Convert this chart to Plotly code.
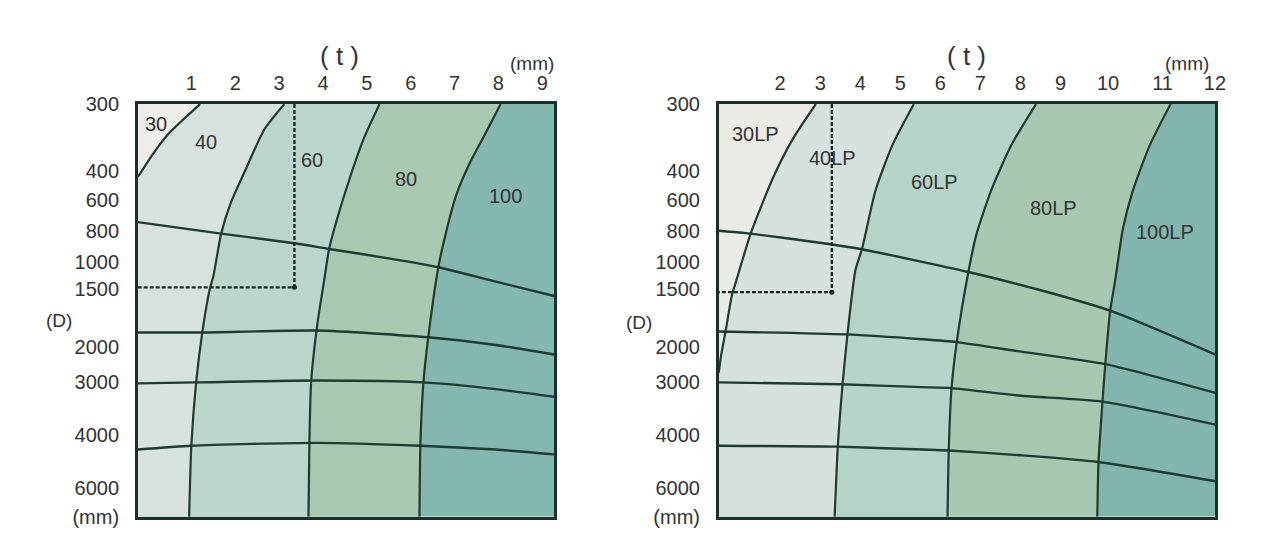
import plotly.graph_objects as go

# ---------------- shared D scale (left axis) ----------------
D_labels = ["300", "400", "600", "800", "1000", "1500", "2000", "3000", "4000", "6000", "(mm)"]
D_pos = [0, 70, 100, 132, 165, 193, 253, 290, 345, 400, 430]
D_range = [430, 0]

# ---------------- left chart ----------------
L_t_ticks = [1, 2, 3, 4, 5, 6, 7, 8, 9]
L_t_labels = ["1", "2", "3", "4", "5", "6", "7", "8", "9"]
L_t_range = [-0.22, 9.27]
L_band_names = ["30", "40", "60", "80", "100"]
L_band_colors = ["#eceee7", "#d7e2de", "#bbd5ca", "#a8c8b1", "#83b7af"]
L_band_label_t = [0.19, 1.34, 3.76, 5.90, 8.16]
L_band_label_y = [21, 40, 58, 78, 96]

# boundary curves between bands (t, D-scale position)
L_c1_t = [1.20, 0.84, 0.48, 0.14, -0.22]
L_c1_y = [0, 15, 31, 51, 76]
L_c2_t = [3.12, 2.67, 2.22, 1.90, 1.68, 1.50, 1.43, 1.25, 1.11, 1.00, 0.95]
L_c2_y = [0, 26, 70, 103, 135, 180, 191, 238, 290, 356, 430]
L_c3_t = [5.29, 4.93, 4.62, 4.32, 4.14, 4.03, 3.87, 3.73, 3.69, 3.67]
L_c3_y = [0, 36, 76, 120, 151, 183, 230, 290, 356, 430]
L_c4_t = [8.05, 7.71, 7.33, 7.03, 6.81, 6.63, 6.40, 6.29, 6.22, 6.20]
L_c4_y = [0, 30, 63, 96, 133, 170, 243, 290, 356, 430]

# unit-count lines (1台..4台)
L_h_names = ["1台", "2台", "3台", "4台"]
L_h1_t = [-0.22, 1.68, 3.35, 4.14, 5.53, 6.63, 7.94, 9.27]
L_h1_y = [123, 135, 145, 151, 161, 170, 185, 200]
L_h2_t = [-0.22, 1.25, 3.87, 6.40, 7.94, 9.27]
L_h2_y = [238, 238, 236, 243, 251, 261]
L_h3_t = [-0.22, 1.11, 3.87, 6.29, 7.94, 9.27]
L_h3_y = [291, 290, 288, 290, 297, 305]
L_h4_t = [-0.22, 1.00, 3.87, 6.22, 7.94, 9.27]
L_h4_y = [360, 356, 353, 356, 360, 365]
L_h_label_t = 9.93
L_h_label_y = [101, 238, 287, 340]
L_example = (3.35, 191)

# ---------------- right chart ----------------
R_t_ticks = [2, 3, 4, 5, 6, 7, 8, 9, 10.19, 11.55, 12.86]
R_t_labels = ["2", "3", "4", "5", "6", "7", "8", "9", "10", "11", "12"]
R_t_range = [0.465, 12.87]
R_band_names = ["30LP", "40LP", "60LP", "80LP", "100LP"]
R_band_colors = ["#e9ebe4", "#d6e1de", "#b6d3c8", "#a8c7b0", "#81b5ad"]
R_band_label_t = [1.38, 3.31, 5.86, 8.83, 11.60]
R_band_label_y = [31, 56, 81, 108, 133]

R_c1_t = [2.89, 2.32, 1.83, 1.28, 0.91, 0.79, 0.64, 0.52, 0.465]
R_c1_y = [0, 36, 76, 133, 183, 200, 236, 263, 280]
R_c2_t = [5.34, 4.80, 4.38, 4.05, 3.88, 3.68, 3.56, 3.44, 3.36]
R_c2_y = [0, 43, 90, 150, 173, 240, 291, 356, 430]
R_c3_t = [8.39, 7.77, 7.27, 6.90, 6.70, 6.41, 6.28, 6.21, 6.18]
R_c3_y = [0, 43, 90, 136, 175, 248, 296, 361, 430]
R_c4_t = [11.75, 11.23, 10.81, 10.56, 10.37, 10.24, 10.12, 10.05, 9.95, 9.92]
R_c4_y = [0, 43, 90, 130, 183, 216, 271, 310, 373, 430]

R_h_names = ["1台", "2台", "3台", "4台"]
R_h1_t = [0.465, 1.26, 3.26, 4.01, 6.70, 8.51, 10.29, 12.87]
R_h1_y = [132, 135, 146, 151, 175, 194, 216, 261]
R_h2_t = [0.465, 3.63, 5.54, 6.41, 8.02, 10.12, 12.87]
R_h2_y = [237, 240, 245, 248, 258, 271, 301]
R_h3_t = [0.465, 3.51, 5.54, 6.28, 8.02, 10.05, 12.87]
R_h3_y = [290, 292, 295, 296, 304, 310, 334]
R_h4_t = [0.465, 3.44, 5.54, 6.21, 8.02, 9.95, 12.87]
R_h4_y = [356, 357, 360, 361, 366, 373, 393]
R_h_label_t = 13.51
R_h_label_y = [133, 283, 321, 365]
R_example = (3.29, 196)

# ---------------- styling ----------------
LINE = "#1d3a33"
TEXT = "#333333"
FONT = "Liberation Sans, Noto Sans CJK JP, sans-serif"

fig = go.Figure()


def add_panel(xa, ya, t_range, colors, curves, hlines, example):
    xl, xr = t_range
    fig.add_trace(go.Scatter(x=[xl, xr, xr, xl, xl], y=[0, 0, 430, 430, 0], fill="toself",
                             fillcolor=colors[-1], line=dict(width=0), mode="lines",
                             xaxis=xa, yaxis=ya, hoverinfo="skip", showlegend=False))
    for i in range(len(curves) - 1, -1, -1):
        ct, cy = curves[i]
        px = list(ct) + [xl, xl, ct[0]]
        py = list(cy) + [cy[-1], 0, 0]
        fig.add_trace(go.Scatter(x=px, y=py, fill="toself", fillcolor=colors[i],
                                 line=dict(width=0), mode="lines",
                                 xaxis=xa, yaxis=ya, hoverinfo="skip", showlegend=False))
    for ct, cy in curves:
        fig.add_trace(go.Scatter(x=ct, y=cy, mode="lines",
                                 line=dict(color=LINE, width=2.2, shape="spline", smoothing=0.6),
                                 xaxis=xa, yaxis=ya, hoverinfo="skip", showlegend=False))
    for ht, hy in hlines:
        fig.add_trace(go.Scatter(x=ht, y=hy, mode="lines",
                                 line=dict(color=LINE, width=2.4, shape="spline", smoothing=0.6),
                                 xaxis=xa, yaxis=ya, hoverinfo="skip", showlegend=False))
    ex_t, ex_y = example
    fig.add_trace(go.Scatter(x=[ex_t, ex_t, xl], y=[0, ex_y, ex_y], mode="lines",
                             line=dict(color="#1a2a26", width=2.4, dash="4px,2px"),
                             xaxis=xa, yaxis=ya, hoverinfo="skip", showlegend=False))
    fig.add_trace(go.Scatter(x=[ex_t], y=[ex_y], mode="markers",
                             marker=dict(color="#1a2a26", size=5),
                             xaxis=xa, yaxis=ya, hoverinfo="skip", showlegend=False))


add_panel("x", "y", L_t_range, L_band_colors,
          [(L_c1_t, L_c1_y), (L_c2_t, L_c2_y), (L_c3_t, L_c3_y), (L_c4_t, L_c4_y)],
          [(L_h1_t, L_h1_y), (L_h2_t, L_h2_y), (L_h3_t, L_h3_y), (L_h4_t, L_h4_y)],
          L_example)
add_panel("x2", "y2", R_t_range, R_band_colors,
          [(R_c1_t, R_c1_y), (R_c2_t, R_c2_y), (R_c3_t, R_c3_y), (R_c4_t, R_c4_y)],
          [(R_h1_t, R_h1_y), (R_h2_t, R_h2_y), (R_h3_t, R_h3_y), (R_h4_t, R_h4_y)],
          R_example)

W, H = 1271, 545
ydom = [1 - 527 / H, 1 - 97 / H]


def xaxis(domain, rng, ticks, labels, anchor):
    return dict(domain=domain, range=rng, side="top", anchor=anchor,
                tickmode="array", tickvals=ticks, ticktext=labels,
                ticks="outside", ticklen=3, tickcolor="rgba(0,0,0,0)",
                tickfont=dict(size=20, color=TEXT, family=FONT),
                showgrid=False, zeroline=False, showline=True, mirror=True,
                linecolor="#1c302b", linewidth=2.5, fixedrange=True)


def yaxis(anchor):
    return dict(domain=ydom, range=D_range, anchor=anchor,
                tickmode="array", tickvals=D_pos, ticktext=D_labels,
                ticks="outside", ticklen=12, tickcolor="rgba(0,0,0,0)",
                tickfont=dict(size=20, color=TEXT, family=FONT),
                showgrid=False, zeroline=False, showline=True, mirror=True,
                linecolor="#1c302b", linewidth=2.5, fixedrange=True)


annotations = []


def ann(text, x, y, xref, yref, size=20, xanchor="center"):
    annotations.append(dict(text=text, x=x, y=y, xref=xref, yref=yref, showarrow=False,
                            xanchor=xanchor, yanchor="middle",
                            font=dict(size=size, color=TEXT, family=FONT)))


for name, t, y in zip(L_band_names, L_band_label_t, L_band_label_y):
    ann(name, t, y, "x", "y")
for name, y in zip(L_h_names, L_h_label_y):
    ann(name, L_h_label_t, y, "x", "y")
for name, t, y in zip(R_band_names, R_band_label_t, R_band_label_y):
    ann(name, t, y, "x2", "y2")
for name, y in zip(R_h_names, R_h_label_y):
    ann(name, R_h_label_t, y, "x2", "y2")

# axis titles
ann("( t )", 342 / W, 1 - 47 / H, "paper", "paper", size=26)
ann("(mm)", 537 / W, 1 - 55 / H, "paper", "paper", size=19)
ann("(D)", 60 / W, 1 - 322 / H, "paper", "paper", size=19)
ann("( t )", 975 / W, 1 - 47 / H, "paper", "paper", size=26)
ann("(mm)", 1197 / W, 1 - 55 / H, "paper", "paper", size=19)
ann("(D)", 645 / W, 1 - 325 / H, "paper", "paper", size=19)

fig.update_layout(
    width=W, height=H, margin=dict(l=0, r=0, t=0, b=0),
    paper_bgcolor="white", plot_bgcolor="white", showlegend=False,
    xaxis=xaxis([139 / W, 559 / W], L_t_range, L_t_ticks, L_t_labels, "y"),
    yaxis=yaxis("x"),
    xaxis2=xaxis([725 / W, 1226 / W], R_t_range, R_t_ticks, R_t_labels, "y2"),
    yaxis2=yaxis("x2"),
    annotations=annotations,
)

post = (
    "document.documentElement.style.margin='0';"
    "document.documentElement.style.overflow='hidden';"
    "document.body.style.margin='0';"
    "document.body.style.overflow='hidden';"
    "var gd=document.getElementById('{plot_id}');"
    "Plotly.relayout(gd,{width:window.innerWidth,height:window.innerHeight});"
)
fig.write_html("out.html", config={"displayModeBar": False}, post_script=post)
